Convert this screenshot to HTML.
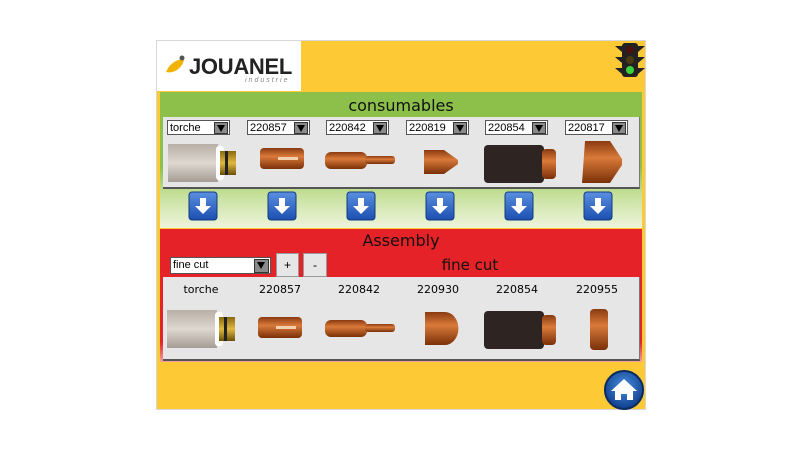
<!DOCTYPE html>
<html><head><meta charset="utf-8"><style>
body{margin:0;width:800px;height:450px;background:#fff;position:relative;overflow:hidden;font-family:"Liberation Sans",sans-serif}
.a{position:absolute}
.dd{position:absolute;height:15px;width:63px;background:#fff;border:1px solid #555;font-size:11px;line-height:15px;padding-left:2px;box-sizing:border-box}
.dd i{position:absolute;right:1px;top:1px;width:14px;height:12px;background:#8a8a8a;border:1px solid #333;box-sizing:border-box}
.dd i:after{content:"";position:absolute;left:2px;top:2px;border-left:4px solid transparent;border-right:4px solid transparent;border-top:7px solid #000}
.t{position:absolute;font-family:"Comic Sans MS","DejaVu Sans",sans-serif;color:#111}
.lb{position:absolute;top:283px;font-size:11px;width:60px;text-align:center;font-family:"DejaVu Sans",sans-serif}
</style></head><body>
<div class="a" style="left:156px;top:40px;width:488px;height:368px;background:#fdc935;border:1px solid #d8d8d8"></div>
<div class="a" style="left:157px;top:41px;width:144px;height:50px;background:#fff"></div>
<div class="a" style="left:189px;top:54px;font-size:22px;font-weight:bold;color:#222;letter-spacing:-0.3px">JOUANEL</div>
<div class="a" style="left:245px;top:77px;font-size:7px;color:#888;letter-spacing:2px;font-style:italic">industrie</div>
<div class="a" style="left:160px;top:92px;width:482px;height:136px;background:linear-gradient(#8cc04a 0,#8cc04a 55%,#c5e09a 75%,#eef5dd 100%)"></div>
<div class="t" style="left:160px;width:482px;top:96px;text-align:center;font-size:16px">consumables</div>
<div class="a" style="left:163px;top:117px;width:476px;height:70px;background:#e6e6e6;border-bottom:2px solid #555;border-right:1px solid #777"></div>
<div class="dd" style="left:167px;top:120px">torche<i></i></div>
<div class="dd" style="left:247px;top:120px">220857<i></i></div>
<div class="dd" style="left:326px;top:120px">220842<i></i></div>
<div class="dd" style="left:406px;top:120px">220819<i></i></div>
<div class="dd" style="left:485px;top:120px">220854<i></i></div>
<div class="dd" style="left:565px;top:120px">220817<i></i></div>
<div class="a" style="left:160px;top:229px;width:482px;height:133px;background:linear-gradient(#e42227 0,#e42227 85%,#f3a0a0 100%)"></div>
<div class="t" style="left:160px;width:482px;top:231px;text-align:center;font-size:16px">Assembly</div>
<div class="t" style="left:420px;width:100px;top:256px;text-align:center;font-size:15px">fine cut</div>
<div class="dd" style="left:170px;top:257px;width:101px;height:17px">fine cut<i style="width:15px;height:14px"></i></div>
<div class="a" style="left:276px;top:253px;width:21px;height:22px;background:#e6e6e6;border:1px solid #999;text-align:center;font-size:12px;line-height:22px">+</div>
<div class="a" style="left:303px;top:253px;width:22px;height:22px;background:#e6e6e6;border:1px solid #999;text-align:center;font-size:12px;line-height:22px">-</div>
<div class="a" style="left:163px;top:277px;width:476px;height:82px;background:#e6e6e6;border-bottom:2px solid #555;border-right:1px solid #777"></div>
<div class="lb" style="left:171px">torche</div>
<div class="lb" style="left:250px">220857</div>
<div class="lb" style="left:329px">220842</div>
<div class="lb" style="left:408px">220930</div>
<div class="lb" style="left:487px">220854</div>
<div class="lb" style="left:567px">220955</div>
<svg class="a" style="left:0;top:0" width="800" height="450">
<defs>
<linearGradient id="cu" x1="0" y1="0" x2="0" y2="1"><stop offset="0" stop-color="#8a3a10"/><stop offset=".4" stop-color="#d97a3a"/><stop offset="1" stop-color="#7a3008"/></linearGradient>
<linearGradient id="gr" x1="0" y1="0" x2="0" y2="1"><stop offset="0" stop-color="#b8afa6"/><stop offset=".5" stop-color="#ded8d0"/><stop offset="1" stop-color="#a59c93"/></linearGradient>
<linearGradient id="br" x1="0" y1="0" x2="0" y2="1"><stop offset="0" stop-color="#8a6a10"/><stop offset=".5" stop-color="#e0b840"/><stop offset="1" stop-color="#6a5008"/></linearGradient>
<linearGradient id="bl" x1="0" y1="0" x2="0" y2="1"><stop offset="0" stop-color="#5a8fe0"/><stop offset="1" stop-color="#1c4fb0"/></linearGradient>
<radialGradient id="hb" cx=".5" cy=".4" r=".6"><stop offset="0" stop-color="#4a90e0"/><stop offset="1" stop-color="#0d3d8a"/></radialGradient>
<g id="torch"><rect x="0" y="0" width="50" height="38" fill="url(#gr)"/><rect x="48" y="2" width="8" height="34" fill="#fff" rx="3"/><rect x="52" y="7" width="16" height="24" fill="url(#br)"/><rect x="57" y="7" width="3" height="24" fill="#222"/></g>
<g id="p857"><rect x="0" y="0" width="44" height="21" rx="4" fill="url(#cu)"/><rect x="18" y="9" width="20" height="3" fill="#f5d0b0"/></g>
<g id="p842"><rect x="0" y="2" width="42" height="17" rx="6" fill="url(#cu)"/><rect x="40" y="6" width="30" height="8" rx="3" fill="url(#cu)"/></g>
<g id="p854"><rect x="0" y="0" width="60" height="38" rx="4" fill="#2e2523"/><rect x="58" y="4" width="14" height="30" rx="4" fill="url(#cu)"/></g>
<g id="arr"><rect x="0" y="0" width="28" height="28" rx="3" fill="url(#bl)" stroke="#123a80"/><path d="M11 6h6v8h5l-8 8-8-8h5z" fill="#fff"/></g>
</defs>
<use href="#torch" x="168" y="144"/>
<use href="#p857" x="260" y="148"/>
<use href="#p842" x="325" y="150"/>
<path d="M424 150h20l14 10v4l-14 10h-20z" fill="url(#cu)"/>
<use href="#p854" x="484" y="145"/>
<path d="M585 141h25l12 18v6l-12 18h-28z" fill="url(#cu)"/>
<use href="#arr" x="189" y="192"/><use href="#arr" x="268" y="192"/><use href="#arr" x="347" y="192"/><use href="#arr" x="426" y="192"/><use href="#arr" x="505" y="192"/><use href="#arr" x="584" y="192"/>
<use href="#torch" x="167" y="310"/>
<use href="#p857" x="258" y="317"/>
<use href="#p842" x="325" y="318"/>
<path d="M425 312h20a13 16 0 0 1 0 33h-20z" fill="url(#cu)"/>
<use href="#p854" x="484" y="311"/>
<rect x="590" y="309" width="18" height="41" rx="4" fill="url(#cu)"/>
<g><rect x="622" y="43" width="16" height="34" rx="3" fill="#222"/><path d="M615 46h7v6zM615 57h7v6zM615 68h7v6zM645 46h-7v6zM645 57h-7v6zM645 68h-7v6z" fill="#222"/><circle cx="630" cy="50" r="4" fill="#4a1010"/><circle cx="630" cy="60" r="4" fill="#4a3a10"/><circle cx="630" cy="70" r="4" fill="#3bd23b"/></g>
<circle cx="624" cy="390" r="19" fill="url(#hb)" stroke="#0a2a60" stroke-width="2"/>
<path d="M611 391l13-12 13 12h-4v9h-6v-6h-6v6h-6v-9z" fill="#fff"/>
<path d="M166 72c4-10 14-14 18-12-2 8-10 14-18 12z" fill="#f0b400"/>
<circle cx="182" cy="58" r="2.5" fill="#555"/>
</svg>
</body></html>
